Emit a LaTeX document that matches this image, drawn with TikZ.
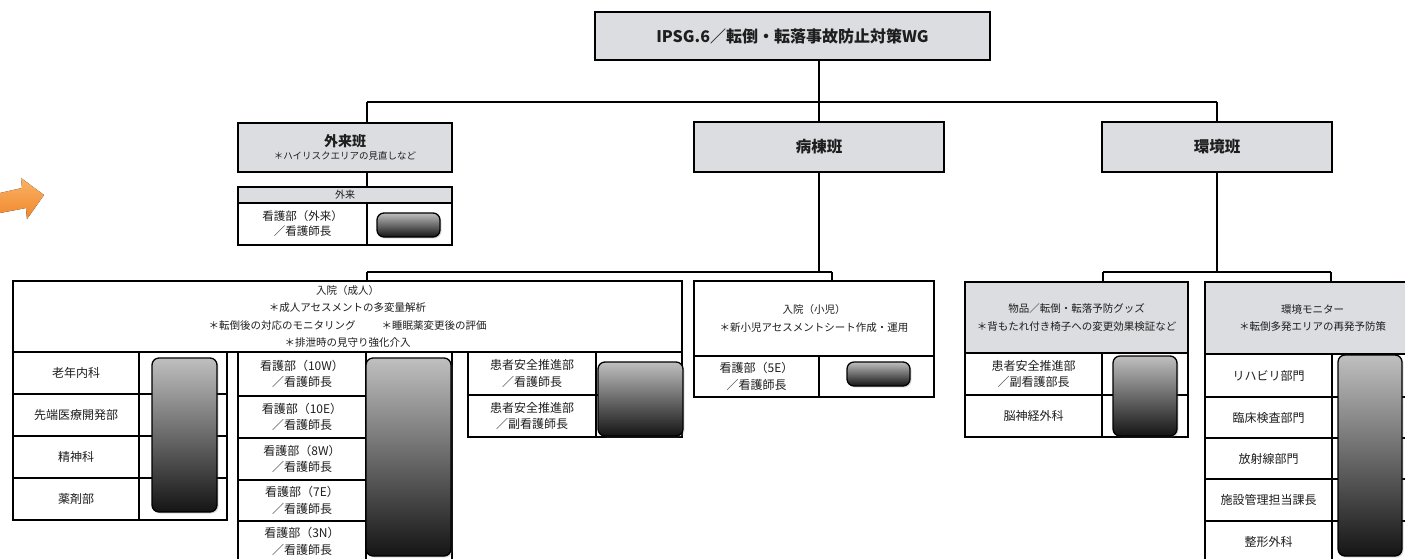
\documentclass[tikz,border=0pt]{standalone}
\usepackage{fontspec}
\setmainfont{Noto Sans CJK JP}
\usetikzlibrary{shadows}
\definecolor{hdr}{RGB}{220,221,225}
\definecolor{txt}{RGB}{30,30,30}
\definecolor{orgA}{RGB}{250,178,100}
\definecolor{orgB}{RGB}{240,135,45}
\newcommand\cellf{\fontsize{12}{16.5}\selectfont}
\newcommand\hdrf{\fontsize{10.5}{17.6}\selectfont}
\tikzset{
  sz/.style 2 args={minimum width=#1pt,minimum height=#2pt,anchor=north west,inner sep=0pt,outer sep=0pt},
  frame/.style={draw=black,line width=1.8pt},
  hbox/.style={frame,fill=hdr,text=txt,align=center},
  cell/.style={draw=black,line width=1.1pt,fill=white,text=txt,align=center,font=\cellf},
  hcell/.style={cell,fill=hdr,font=\hdrf},
  outline/.style={frame,fill=none},
  photo/.style={draw=black,line width=1.3pt,rounded corners=7pt,top color=black!25,bottom color=black!92,
    drop shadow={shadow xshift=1.5pt,shadow yshift=-1.5pt,opacity=0.25}},
  wire/.style={draw=black,line width=1.4pt}
}
\begin{document}
\begin{tikzpicture}[x=1pt,y=-1pt]
\useasboundingbox (0,0) rectangle (1405,558);
\clip (0,0) rectangle (1405,558);
\fill[white] (0,0) rectangle (1405,558);

% orange arrow
\fill[top color=orgA,bottom color=orgB] (0,193) -- (22,188) -- (21,178) -- (44,195) -- (27,219) -- (26,208) -- (0,213) -- cycle;

% top
\node[hbox,sz={395}{48},font=\bfseries\fontsize{16}{18}\selectfont] (T) at (595,12) {IPSG.6／転倒・転落事故防止対策WG};

% level 2
\node[hbox,sz={214}{49}] (G1) at (238,123) {{\bfseries\fontsize{14}{16}\selectfont 外来班}\\[1pt]{\fontsize{9.5}{11}\selectfont ＊ハイリスクエリアの見直しなど}};
\node[hbox,sz={250}{50},font=\bfseries\fontsize{15.5}{17}\selectfont] (G2) at (694,122) {病棟班};
\node[hbox,sz={230}{50},font=\bfseries\fontsize{15.5}{17}\selectfont] (G3) at (1102,122) {環境班};

% connectors level 1
\coordinate (k1) at (367,102);
\coordinate (k2) at (1217,102);
\draw[wire] (T.south -| G2.north) -- (G2.north);
\draw[wire] (k1) -- (k2);
\draw[wire] (k1) -- (G1.north -| k1);
\draw[wire] (k2) -- (G3.north);

% 外来 table
\node[hcell,sz={214}{16},font=\fontsize{10}{12}\selectfont] (OH) at (238,187) {外来};
\node[cell,sz={129}{42},font=\fontsize{11.5}{15}\selectfont] (OL) at (238,203) {看護部（外来）\\／看護師長};
\node[cell,sz={85}{42}] (OR) at (367,203) {};
\node[outline,sz={214}{58}] (OF) at (238,187) {};
\node[photo,sz={63}{24}] (OP) at (377,213) {};
\draw[wire] (G1.south -| k1) -- (OH.north -| k1);

% 入院（成人）
\node[cell,frame,sz={669}{71},font=\hdrf] (A) at (13,281) {入院（成人）\\＊成人アセスメントの多変量解析\\＊転倒後の対応のモニタリング\hspace{26pt}＊睡眠薬変更後の評価\\＊排泄時の見守り強化介入};

% left list
\node[cell,sz={126}{42}] (L1) at (13,352) {老年内科};
\node[cell,sz={126}{42}] (L2) at (13,394) {先端医療開発部};
\node[cell,sz={126}{42}] (L3) at (13,436) {精神科};
\node[cell,sz={126}{42}] (L4) at (13,478) {薬剤部};
\node[cell,sz={88}{42}] (L1r) at (139,352) {};
\node[cell,sz={88}{42}] (L2r) at (139,394) {};
\node[cell,sz={88}{42}] (L3r) at (139,436) {};
\node[cell,sz={88}{42}] (L4r) at (139,478) {};
\node[outline,sz={214}{168}] (LF) at (13,352) {};
\node[photo,sz={65}{154}] (LP) at (152,358) {};

% middle list
\node[cell,sz={128}{44}] (M1) at (238,352) {看護部（10W）\\／看護師長};
\node[cell,sz={128}{42}] (M2) at (238,396) {看護部（10E）\\／看護師長};
\node[cell,sz={128}{42}] (M3) at (238,438) {看護部（8W）\\／看護師長};
\node[cell,sz={128}{41}] (M4) at (238,480) {看護部（7E）\\／看護師長};
\node[cell,sz={128}{41}] (M5) at (238,521) {看護部（3N）\\／看護師長};
\node[cell,sz={86}{44}] (M1r) at (366,352) {};
\node[cell,sz={86}{42}] (M2r) at (366,396) {};
\node[cell,sz={86}{42}] (M3r) at (366,438) {};
\node[cell,sz={86}{41}] (M4r) at (366,480) {};
\node[cell,sz={86}{41}] (M5r) at (366,521) {};
\node[outline,sz={214}{210}] (MF) at (238,352) {};
\node[photo,sz={85}{198}] (MP) at (366,358) {};

% patient safety
\node[cell,sz={128}{43}] (P1) at (468,352) {患者安全推進部\\／看護師長};
\node[cell,sz={128}{42}] (P2) at (468,395) {患者安全推進部\\／副看護師長};
\node[cell,sz={86}{43}] (P1r) at (596,352) {};
\node[cell,sz={86}{42}] (P2r) at (596,395) {};
\node[outline,sz={214}{85}] (PF) at (468,352) {};
\node[photo,sz={85}{74}] (PP) at (598,362) {};

% 入院（小児）
\node[cell,sz={240}{75},font=\hdrf] (B) at (694,281) {入院（小児）\\＊新小児アセスメントシート作成・運用};
\node[cell,sz={125}{41}] (B1) at (694,356) {看護部（5E）\\／看護師長};
\node[cell,sz={115}{41}] (B1r) at (819,356) {};
\node[outline,sz={240}{116}] (BF) at (694,281) {};
\node[photo,sz={63}{24}] (BP) at (847,362) {};

% 物品
\node[hcell,sz={223}{71}] (C) at (965,282) {物品／転倒・転落予防グッズ\\＊背もたれ付き椅子への変更効果検証など};
\node[cell,sz={137}{42}] (C1) at (965,353) {患者安全推進部\\／副看護部長};
\node[cell,sz={137}{42}] (C2) at (965,395) {脳神経外科};
\node[cell,sz={86}{42}] (C1r) at (1102,353) {};
\node[cell,sz={86}{42}] (C2r) at (1102,395) {};
\node[outline,sz={223}{155}] (CF) at (965,282) {};
\node[photo,sz={64}{80}] (CP) at (1113,356) {};

% 環境モニター
\node[hcell,sz={215}{72}] (D) at (1205,282) {環境モニター\\＊転倒多発エリアの再発予防策};
\node[cell,sz={127}{43}] (D1) at (1205,354) {リハビリ部門};
\node[cell,sz={127}{41}] (D2) at (1205,397) {臨床検査部門};
\node[cell,sz={127}{41}] (D3) at (1205,438) {放射線部門};
\node[cell,sz={127}{42}] (D4) at (1205,479) {施設管理担当課長};
\node[cell,sz={127}{41}] (D5) at (1205,521) {整形外科};
\node[cell,sz={88}{43}] (D1r) at (1332,354) {};
\node[cell,sz={88}{41}] (D2r) at (1332,397) {};
\node[cell,sz={88}{41}] (D3r) at (1332,438) {};
\node[cell,sz={88}{42}] (D4r) at (1332,479) {};
\node[cell,sz={88}{41}] (D5r) at (1332,521) {};
\node[outline,sz={215}{280}] (DF) at (1205,282) {};
\node[photo,sz={64}{201}] (DP) at (1338,355) {};

% connectors level 2
\coordinate (k3) at (367,272);
\coordinate (k4) at (832,272);
\coordinate (k5) at (1103,272);
\coordinate (k6) at (1331,272);
\draw[wire] (G2.south) -- (G2.south |- k3);
\draw[wire] (k3) -- (k4);
\draw[wire] (k3) -- (A.north -| k3);
\draw[wire] (k4) -- (B.north -| k4);
\draw[wire] (G3.south) -- (G3.south |- k5);
\draw[wire] (k5) -- (k6);
\draw[wire] (k5) -- (C.north -| k5);
\draw[wire] (k6) -- (D.north -| k6);
\end{tikzpicture}
\end{document}
